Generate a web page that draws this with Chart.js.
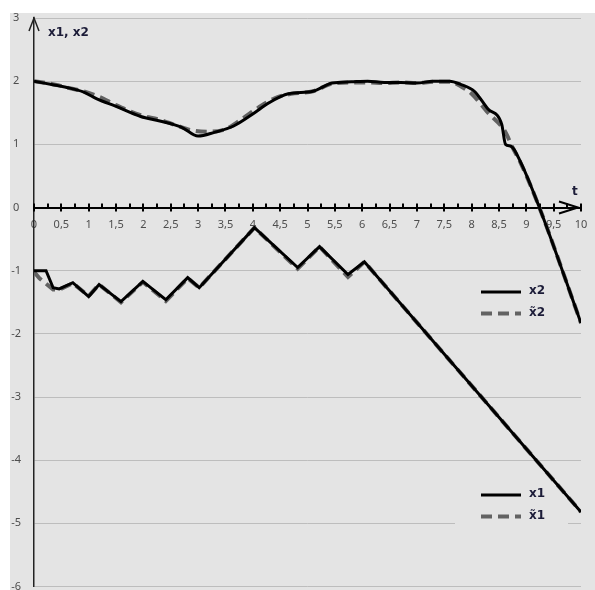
<!DOCTYPE html>
<html>
<head>
<meta charset="utf-8">
<script src="https://cdn.jsdelivr.net/npm/chart.js"></script>
<style>
    body { margin: 0; background: #fff; }
    #wrap { width: 595px; height: 590px; }
</style>
</head>
<body>
<div id="wrap"><canvas id="chart" width="595" height="590"></canvas></div>
<script>
// x2 (solid) and its estimate (dashed)
const tX2 = [0, 0.3, 0.6, 0.9, 1.15, 1.5, 1.95, 2.3, 2.7, 3.0, 3.3, 3.65, 4.0, 4.3, 4.65, 5.1, 5.45, 5.8, 6.1, 6.4, 6.7, 7.0, 7.3, 7.6, 7.8, 8.05, 8.3, 8.55, 8.62, 8.72, 8.9, 9.23, 10];
const x2 = [2.0, 1.95, 1.9, 1.83, 1.72, 1.6, 1.44, 1.37, 1.27, 1.13, 1.19, 1.29, 1.48, 1.66, 1.8, 1.84, 1.97, 1.99, 2.0, 1.98, 1.98, 1.97, 2.0, 2.0, 1.95, 1.84, 1.56, 1.32, 1.0, 0.97, 0.71, 0.02, -1.83];
const tX2hat = [0, 0.3, 0.6, 0.9, 1.2, 1.5, 1.95, 2.3, 2.6, 2.9, 3.2, 3.5, 3.8, 4.1, 4.4, 4.7, 5.1, 5.45, 5.8, 6.1, 6.4, 6.7, 7.0, 7.3, 7.6, 7.8, 8.0, 8.3, 8.6, 8.75, 8.9, 9.23, 10];
const x2hat = [2.0, 1.96, 1.9, 1.84, 1.75, 1.62, 1.46, 1.39, 1.3, 1.22, 1.2, 1.24, 1.4, 1.58, 1.73, 1.8, 1.84, 1.96, 1.98, 1.98, 1.97, 1.98, 1.97, 1.99, 1.99, 1.92, 1.8, 1.5, 1.22, 0.95, 0.7, 0.02, -1.83];

// x1 (solid) and its estimate (dashed)
const tX1 = [0, 0.22, 0.35, 0.46, 0.71, 1.0, 1.19, 1.59, 1.99, 2.41, 2.81, 3.02, 4.03, 4.82, 5.22, 5.74, 6.04, 10];
const x1 = [-1.0, -1.0, -1.27, -1.29, -1.19, -1.41, -1.22, -1.49, -1.17, -1.46, -1.11, -1.27, -0.32, -0.95, -0.62, -1.06, -0.86, -4.82];
const tX1hat = [0, 0.1, 0.35, 0.46, 0.71, 1.0, 1.19, 1.59, 1.99, 2.41, 2.81, 3.02, 4.03, 4.82, 5.22, 5.74, 6.04, 10];
const x1hat = [-1.02, -1.12, -1.3, -1.3, -1.2, -1.4, -1.22, -1.5, -1.18, -1.48, -1.12, -1.27, -0.32, -0.97, -0.62, -1.1, -0.86, -4.82];

const yMin = -6, yMax = 3;
const tMin = 0, tMax = 10, tStep = 0.5;

const toPoints = (ts, ys) => ts.map((t, i) => ({ x: t, y: ys[i] }));

const solidStyle = { borderColor: '#000', borderWidth: 3, pointRadius: 0, fill: false, order: 0 };
const dashStyle = { borderColor: '#626262', borderWidth: 4, borderDash: [11, 6], pointRadius: 0, fill: false, order: 1 };

const tickFont = { family: '"Noto Sans", sans-serif', size: 11, lineHeight: 0.5 };

// grey panel behind the plot
const panelBg = {
    id: 'panelBg',
    beforeDraw(chart) {
        const ctx = chart.ctx;
        ctx.save();
        ctx.fillStyle = '#fff';
        ctx.fillRect(0, 0, chart.width, chart.height);
        ctx.fillStyle = '#e4e4e4';
        ctx.fillRect(10, 13, chart.width - 10, chart.height - 13);
        ctx.restore();
    }
};

// legend groups drawn inside the plot
const legends = [
    { y: 292, items: [{ ds: 0, text: 'x2' }, { ds: 1, text: 'x\u03032' }] },
    { y: 495, items: [{ ds: 2, text: 'x1' }, { ds: 3, text: 'x\u03031' }] }
];

const inPlotLegend = {
    id: 'inPlotLegend',
    beforeDatasetsDraw(chart) {
        const ctx = chart.ctx;
        ctx.save();
        ctx.fillStyle = '#e4e4e4';
        legends.forEach(g => ctx.fillRect(455, g.y - 12, 113, 42));
        ctx.restore();
    },
    afterDraw(chart) {
        const ctx = chart.ctx;
        ctx.save();
        legends.forEach(g => {
            g.items.forEach((item, i) => {
                const ds = chart.data.datasets[item.ds];
                const y = g.y + i * 21.5;
                ctx.beginPath();
                ctx.strokeStyle = ds.borderColor;
                ctx.lineWidth = ds.borderWidth;
                ctx.setLineDash(ds.borderDash || []);
                ctx.moveTo(481, y);
                ctx.lineTo(521, y);
                ctx.stroke();
                ctx.setLineDash([]);
                ctx.fillStyle = '#1c1c38';
                ctx.font = 'bold 12px "DejaVu Sans", sans-serif';
                ctx.textBaseline = 'middle';
                ctx.fillText(item.text, 529, y - 1);
            });
        });
        ctx.restore();
    }
};

// axis arrows, small ticks on the t axis, axis names
const axisDecor = {
    id: 'axisDecor',
    afterDraw(chart) {
        const ctx = chart.ctx;
        const xs = chart.scales.x;
        const ys = chart.scales.y;
        const y0 = ys.getPixelForValue(0);
        const xLeft = xs.getPixelForValue(tMin);
        const xRight = xs.getPixelForValue(tMax);
        const yTop = ys.getPixelForValue(yMax);
        ctx.save();
        ctx.strokeStyle = '#000';
        ctx.lineWidth = 2;
        for (let v = tMin; v <= tMax + 1e-9; v += 0.25) {
            const px = Math.round(xs.getPixelForValue(v));
            const major = Math.abs(v / tStep - Math.round(v / tStep)) < 1e-6;
            ctx.beginPath();
            ctx.moveTo(px, y0 - 4);
            ctx.lineTo(px, major ? y0 + 4 : y0);
            ctx.stroke();
        }
        // t arrow
        ctx.beginPath();
        ctx.moveTo(xRight - 22, y0 - 6);
        ctx.lineTo(xRight - 3, y0);
        ctx.lineTo(xRight - 22, y0 + 6);
        ctx.stroke();
        // vertical arrow
        ctx.lineWidth = 1.5;
        ctx.strokeStyle = '#222';
        ctx.beginPath();
        ctx.moveTo(xLeft - 5, yTop + 13);
        ctx.lineTo(xLeft, yTop);
        ctx.lineTo(xLeft + 5, yTop + 13);
        ctx.stroke();

        ctx.fillStyle = '#1c1c38';
        ctx.font = 'bold 12px "DejaVu Sans", sans-serif';
        ctx.textBaseline = 'alphabetic';
        ctx.fillText('x1, x2', 48, 36);
        ctx.fillText('t', 572, 195);
        ctx.restore();
    }
};

new Chart(document.getElementById('chart'), {
    type: 'line',
    data: {
        datasets: [
            { label: 'x2', data: toPoints(tX2, x2), cubicInterpolationMode: 'monotone', ...solidStyle },
            { label: 'x\u03032', data: toPoints(tX2hat, x2hat), cubicInterpolationMode: 'monotone', ...dashStyle },
            { label: 'x1', data: toPoints(tX1, x1), tension: 0, ...solidStyle },
            { label: 'x\u03031', data: toPoints(tX1hat, x1hat), tension: 0, ...dashStyle }
        ]
    },
    options: {
        responsive: false,
        animation: false,
        events: [],
        layout: { padding: { left: 0, right: 14, top: 18, bottom: 3.5 } },
        plugins: {
            legend: { display: false },
            tooltip: { enabled: false }
        },
        scales: {
            x: {
                type: 'linear',
                position: { y: 0 },
                min: tMin,
                max: tMax,
                afterFit: (scale) => {
                    scale.height = 0;
                    scale.paddingLeft = 0;
                    scale.paddingRight = 0;
                    scale.paddingTop = 0;
                    scale.paddingBottom = 0;
                },
                ticks: {
                    stepSize: tStep,
                    autoSkip: false,
                    maxRotation: 0,
                    padding: 15,
                    color: '#4d4d4d',
                    font: tickFont,
                    callback: (v) => String(v).replace('.', ',')
                },
                grid: { display: true, drawOnChartArea: false, drawTicks: false },
                border: { display: true, color: '#000', width: 2 }
            },
            y: {
                min: yMin,
                max: yMax,
                afterFit: (scale) => {
                    scale.width = 34;
                    scale.paddingTop = 0;
                    scale.paddingBottom = 0;
                },
                ticks: {
                    stepSize: 1,
                    padding: 13,
                    crossAlign: 'center',
                    color: '#4d4d4d',
                    font: tickFont
                },
                grid: { color: '#bdbdbd', lineWidth: 1, drawTicks: false },
                border: { display: true, color: '#222', width: 1.5 }
            }
        }
    },
    plugins: [panelBg, inPlotLegend, axisDecor]
});
</script>
</body>
</html>
